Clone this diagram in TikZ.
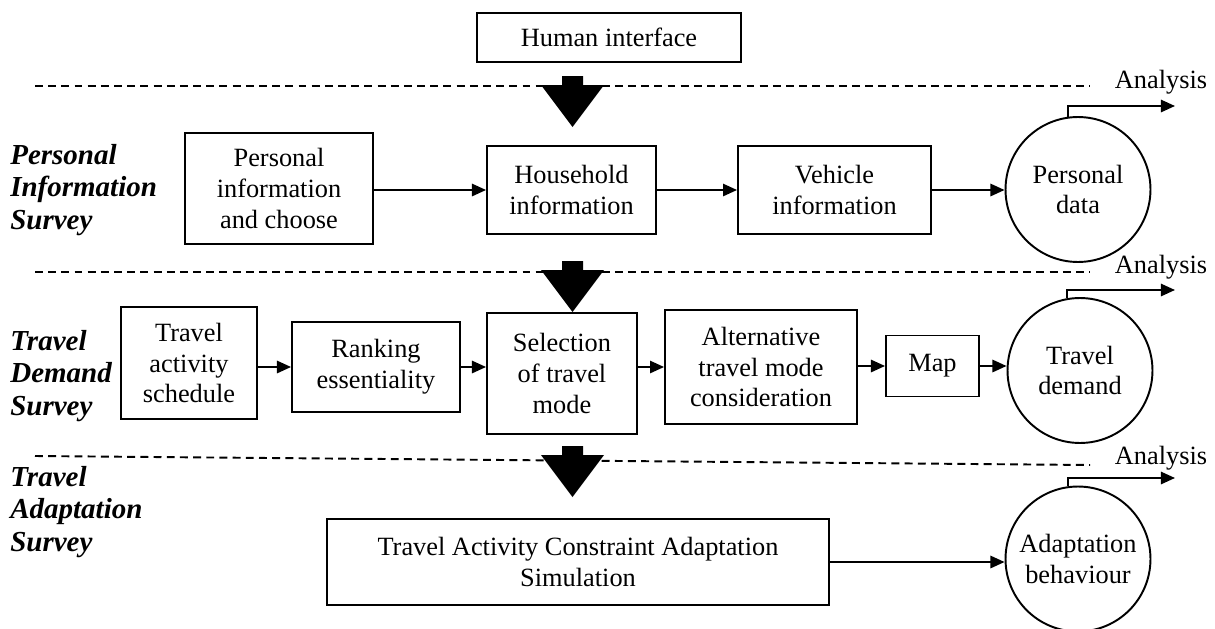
\documentclass[tikz,border=0pt]{standalone}
\usepackage{fontspec}
\setmainfont{Liberation Serif}
\usetikzlibrary{arrows.meta}

\begin{document}
\begin{tikzpicture}
    [
      x=0.02cm, y=-0.02cm,
      every node/.style={font=\fontsize{15}{17.5}\selectfont},
      box/.style={draw, line width=1.1pt, align=center, inner sep=0pt},
      datum/.style={draw, circle, line width=1.1pt, align=center, minimum size=2.9cm, inner sep=0pt},
      survey/.style={anchor=west, align=left, inner sep=0pt, font=\fontsize{16.5}{18.5}\selectfont\bfseries\itshape},
      flow/.style={line width=1.1pt, -{Triangle[length=8pt,width=7pt]}},
      sep/.style={line width=1.1pt, dash pattern=on 4.5pt off 3pt}
    ]
    \useasboundingbox (0,0) rectangle (1215,629);
    \draw [sep] (35,86) -- (1090,86);
    \draw [sep] (35,272) -- (1090,272);
    \draw [sep] (35,456) -- (1090,465);
    \foreach \y in {76,261,446}
      \fill (562,\y) -- (583,\y) -- (583,\y+9) -- (604,\y+9) -- (572.5,\y+51)
        -- (541,\y+9) -- (562,\y+9) -- cycle;
    \node [box, minimum width=5.28cm, minimum height=0.98cm] (human) at (609,37.5) {Human interface};
    \node [survey] (pis) at (10,190) {Personal\\Information\\Survey};
    \node [survey] (tds) at (10,376) {Travel\\Demand\\Survey};
    \node [survey] (tas) at (10,512) {Travel\\Adaptation\\Survey};
    \node [box, minimum width=3.76cm, minimum height=2.22cm] (pinfo) at (279,188.5) {Personal\\information\\and choose};
    \node [box, minimum width=3.38cm, minimum height=1.76cm] (house) at (571.5,190) {Household\\information};
    \node [box, minimum width=3.86cm, minimum height=1.76cm] (vehicle) at (834.5,190) {Vehicle\\information};
    \node [datum] (pdata) at (1078,189.5) {Personal\\data};
    \node [box, minimum width=2.72cm, minimum height=2.24cm] (sched) at (189,363) {Travel\\activity\\schedule};
    \node [box, minimum width=3.36cm, minimum height=1.8cm] (rank) at (376,367) {Ranking\\essentiality};
    \node [box, minimum width=3.0cm, minimum height=2.42cm] (select) at (562,373.5) {Selection\\of travel\\mode};
    \node [box, minimum width=3.84cm, minimum height=2.28cm] (altmode) at (761,367) {Alternative\\travel mode\\consideration};
    \node [box, minimum width=1.86cm, minimum height=1.22cm] (map) at (932.5,366) {Map};
    \node [datum] (tdemand) at (1080,370.5) {Travel\\demand};
    \node [box, minimum width=10.04cm, minimum height=1.72cm] (tacas) at (578,562) {Travel Activity Constraint Adaptation\\Simulation};
    \node [datum] (adapt) at (1078,559) {Adaptation\\behaviour};
    \node (ana1) at (1161,82) {Analysis};
    \node (ana2) at (1161,267) {Analysis};
    \node (ana3) at (1161,458) {Analysis};
    \coordinate (out1) at (1175,106);
    \coordinate (out2) at (1175,290);
    \coordinate (out3) at (1175,478);
    \draw [flow] (pinfo.east |- house.west) -- (house.west);
    \draw [flow] (house.east) -- (vehicle.west);
    \draw [flow] (vehicle.east) -- (vehicle.east -| pdata.west);
    \draw [flow] (pdata.98) |- (out1);
    \draw [flow] (sched.east |- rank.west) -- (rank.west);
    \draw [flow] (rank.east) -- (rank.east -| select.west);
    \draw [flow] (select.east |- altmode.west) -- (altmode.west);
    \draw [flow] (altmode.east |- map.west) -- (map.west);
    \draw [flow] (map.east) -- (map.east -| tdemand.west);
    \draw [flow] (tdemand.100) |- (out2);
    \draw [flow] (tacas.east) -- (tacas.east -| adapt.west);
    \draw [flow] (adapt.98) |- (out3);
\end{tikzpicture}
\end{document}
